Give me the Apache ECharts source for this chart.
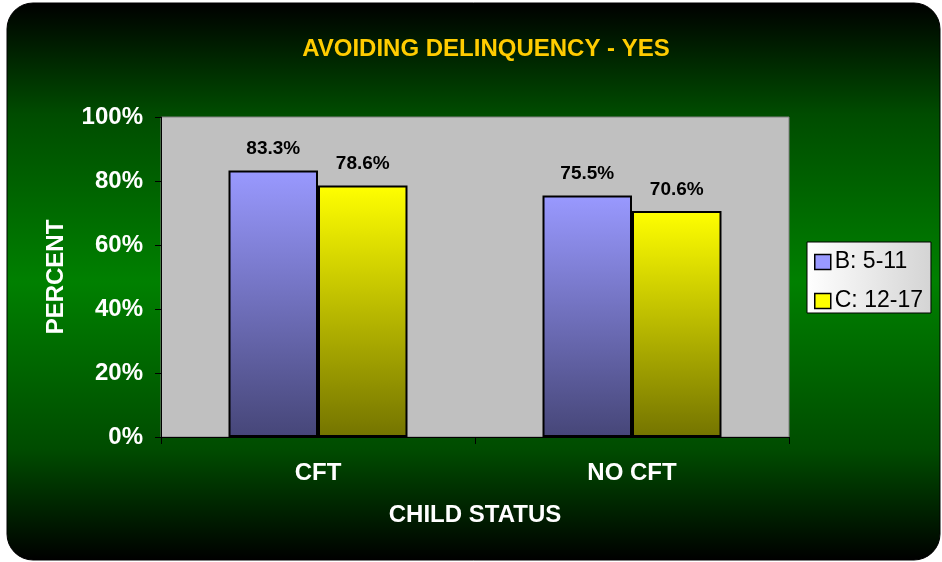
<!DOCTYPE html>
<html>
<head>
<meta charset="utf-8">
<script src="https://cdn.jsdelivr.net/npm/echarts@6/dist/echarts.min.js"></script>
<style>
  html, body { margin: 0; padding: 0; background: #fff; }
  #chart { width: 942px; height: 562px; }
</style>
</head>
<body>
<div id="chart"></div>
<script>
var categories = ['CFT', 'NO CFT'];
var seriesNames = ['B: 5-11', 'C: 12-17'];
var valuesB = [83.3, 75.5];
var valuesC = [78.6, 70.6];
var yTicks = [0, 20, 40, 60, 80, 100];

var chart = echarts.init(document.getElementById('chart'));

var font = 'Liberation Sans, Arial, sans-serif';

function vgrad(top, bottom) {
  return new echarts.graphic.LinearGradient(0, 0, 0, 1, [
    { offset: 0, color: top },
    { offset: 1, color: bottom }
  ]);
}

var labelStyle = {
  show: true,
  position: 'top',
  distance: 12,
  color: '#000',
  fontFamily: font,
  fontWeight: 'bold',
  fontSize: 19,
  formatter: function (p) { return p.value.toFixed(1) + '%'; }
};

var option = {
  animation: false,
  graphic: [{
    type: 'rect',
    z: -10,
    shape: { x: 7, y: 3, width: 933, height: 557, r: 26 },
    style: {
      fill: new echarts.graphic.LinearGradient(0, 0, 0, 1, [
        { offset: 0, color: '#000000' },
        { offset: 0.2, color: '#004c00' },
        { offset: 0.5, color: '#008000' },
        { offset: 0.8, color: '#004c00' },
        { offset: 1, color: '#000000' }
      ]),
      stroke: '#000',
      lineWidth: 1
    }
  }],
  title: {
    text: 'AVOIDING DELINQUENCY - YES',
    left: 481,
    top: 32,
    textAlign: 'center',
    textStyle: {
      color: '#ffcc00',
      fontFamily: font,
      fontWeight: 'bold',
      fontSize: 24
    }
  },
  legend: {
    orient: 'vertical',
    left: 807,
    top: 242,
    padding: [8, 8, 0, 7],
    itemGap: 15,
    itemWidth: 16,
    itemHeight: 15,
    icon: 'rect',
    borderColor: '#000',
    borderWidth: 1,
    backgroundColor: new echarts.graphic.LinearGradient(0, 0, 1, 0, [
      { offset: 0, color: '#ffffff' },
      { offset: 1, color: '#d4d4d4' }
    ]),
    itemStyle: { borderColor: '#000', borderWidth: 1.5 },
    textStyle: {
      color: '#000',
      fontFamily: font,
      fontSize: 23,
      lineHeight: 24,
      padding: [0, 0, 0, -1]
    },
    data: [
      { name: seriesNames[0], itemStyle: { color: '#9999ff' } },
      { name: seriesNames[1], itemStyle: { color: '#ffff00' } }
    ]
  },
  grid: {
    left: 161,
    top: 117,
    right: 153,
    bottom: 125,
    show: true,
    backgroundColor: '#c0c0c0',
    borderColor: '#808080',
    borderWidth: 1
  },
  xAxis: {
    type: 'category',
    data: categories,
    name: 'CHILD STATUS',
    nameLocation: 'middle',
    nameGap: 66,
    nameTextStyle: {
      color: '#fff',
      fontFamily: font,
      fontWeight: 'bold',
      fontSize: 24
    },
    axisLine: { lineStyle: { color: '#000', width: 1 } },
    axisTick: { show: true, length: 7, lineStyle: { color: '#000' } },
    axisLabel: {
      color: '#fff',
      margin: 24,
      fontFamily: font,
      fontWeight: 'bold',
      fontSize: 24
    }
  },
  yAxis: {
    type: 'value',
    min: yTicks[0],
    max: yTicks[yTicks.length - 1],
    interval: 20,
    name: 'PERCENT',
    nameLocation: 'middle',
    nameGap: 93,
    nameTextStyle: {
      color: '#fff',
      fontFamily: font,
      fontWeight: 'bold',
      fontSize: 24
    },
    axisLine: { show: true, lineStyle: { color: '#000' } },
    axisTick: { show: true, length: 6, lineStyle: { color: '#000' } },
    splitLine: { show: false },
    axisLabel: {
      color: '#fff',
      margin: 18,
      fontFamily: font,
      fontWeight: 'bold',
      fontSize: 24,
      formatter: '{value}%'
    }
  },
  series: [
    {
      name: seriesNames[0],
      type: 'bar',
      data: valuesB,
      barGap: '0%',
      barCategoryGap: '43%',
      itemStyle: {
        color: vgrad('#9999ff', '#464678'),
        borderColor: '#000',
        borderWidth: 2
      },
      label: labelStyle
    },
    {
      name: seriesNames[1],
      type: 'bar',
      data: valuesC,
      barGap: '0%',
      barCategoryGap: '43%',
      itemStyle: {
        color: vgrad('#ffff00', '#747400'),
        borderColor: '#000',
        borderWidth: 2
      },
      label: labelStyle
    }
  ]
};

chart.setOption(option);
</script>
</body>
</html>
